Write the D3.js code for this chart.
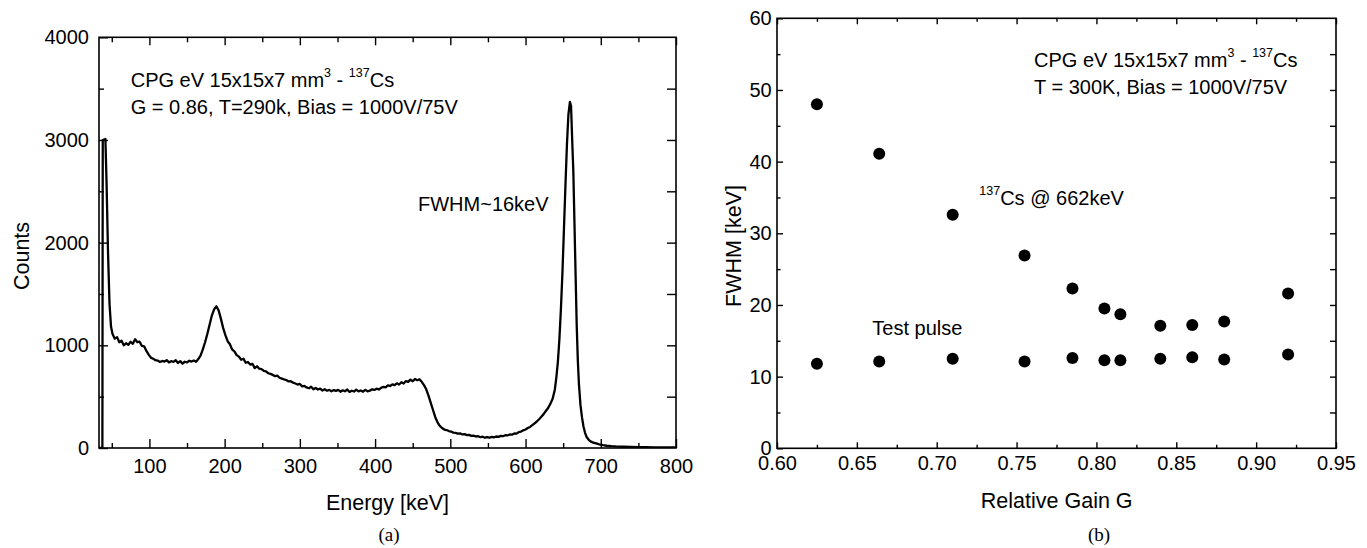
<!DOCTYPE html>
<html><head><meta charset="utf-8">
<script src="https://cdn.jsdelivr.net/npm/d3@7"></script>
<style>
body{margin:0;background:#fff}
svg text{font-family:"Liberation Sans",Arial,Helvetica,sans-serif;fill:#000;white-space:pre}
</style>
</head><body>
<svg id="c" width="1367" height="548"></svg>
<script>
// ---------- Panel (a): 137Cs spectrum ----------
const spectrumEnergy = [
  33,37.5,38,41.5,43,45,47,49,
  51,54,57,60,63,66,69,72,75,78,
  81,84,87,90,93,96,99,102,105,108,
  111,114,117,120,123,126,129,132,135,138,
  141,144,147,150,153,156,159,162,165,168,
  171,174,177,180,183,186,189,192,195,198,
  201,204,207,210,213,216,219,222,225,228,
  231,234,237,240,243,246,249,252,255,258,
  261,264,267,270,273,276,279,282,285,288,
  291,294,297,300,303,306,309,312,315,318,
  321,324,327,330,333,336,339,342,345,348,
  351,354,357,360,363,366,369,372,375,378,
  381,384,387,390,393,396,399,402,405,408,
  411,414,417,420,423,426,429,432,435,438,
  441,444,447,450,453,456,459,462,465,468,
  471,474,477,480,483,486,489,492,495,498,
  501,504,507,510,513,516,519,522,525,528,
  531,534,537,540,543,546,549,552,555,558,
  561,564,567,570,573,576,579,582,585,588,
  591,594,597,600,603,606,609,612,615,618,
  621,624,627,630,633,636,
  639,641,643,645,647,649,651,653,655,657,
  659,660.5,662,663.5,665,666.5,668,669.5,671,673,
  675,677,679,681,684,687,690,694,698,703,
  708,714,720,730,740,750,760,770,780,790,800
];
const spectrumCounts = [
  0,0,3000,3010,2600,1900,1400,1180,
  1110,1065,1080,1030,1045,1000,1020,1005,1035,1015,
  1060,1030,1035,995,990,945,910,880,870,855,
  852,838,848,842,856,834,846,838,855,828,
  846,822,840,834,850,842,852,840,866,900,
  960,1030,1110,1200,1290,1350,1380,1340,1260,1170,
  1100,1040,1010,960,940,905,890,860,870,830,
  838,812,820,778,796,772,768,752,746,728,
  722,712,700,704,684,676,668,662,648,650,
  636,628,618,624,600,604,590,582,596,572,
  585,570,578,560,572,558,566,552,564,556,
  566,548,562,552,570,546,558,550,568,552,
  560,548,566,552,558,572,566,578,570,586,
  596,590,610,604,620,612,630,618,640,628,
  652,644,666,650,672,660,668,645,612,572,
  510,440,370,300,250,215,195,180,175,165,
  160,150,148,140,142,132,135,125,128,118,
  120,112,115,105,110,100,106,100,108,103,
  112,108,118,115,124,122,132,130,142,140,
  155,160,172,180,195,205,222,240,258,280,
  305,330,360,390,430,480,
  570,690,840,1060,1350,1700,2120,2550,2950,3250,
  3370,3330,3000,2700,2200,1700,1200,850,620,420,
  300,210,150,110,80,62,52,44,36,28,
  22,18,15,12,10,9,8,7,6,5,5
];
const energyTicks = [100,200,300,400,500,600,700,800];
const energyMinorTicks = [50,150,250,350,450,550,650,750];
const countTicks = [0,1000,2000,3000,4000];
const countMinorTicks = [500,1500,2500,3500];
const countRightTicks = [500,1000,1500,2000,2500,3000,3500];

// ---------- Panel (b): FWHM vs relative gain ----------
const relativeGain = [0.625,0.664,0.710,0.755,0.785,0.805,0.815,0.840,0.860,0.880,0.920];
const fwhmCs662 =    [48.0,41.1,32.6,26.9,22.3,19.5,18.7,17.1,17.2,17.7,21.6];
const fwhmTestPulse =[11.8,12.1,12.5,12.1,12.6,12.3,12.3,12.5,12.7,12.4,13.1];
const gainTicks = [0.60,0.65,0.70,0.75,0.80,0.85,0.90,0.95];
const gainMinorTicks = [0.625,0.675,0.725,0.775,0.825,0.875,0.925];
const fwhmTicks = [0,10,20,30,40,50,60];
const fwhmMinorTicks = [5,15,25,35,45,55];
const fwhmRightTicks = [5,10,15,20,25,30,35,40,45,50,55];

const svg = d3.select("#c");
svg.append("rect").attr("width",1367).attr("height",548).attr("fill","#fff");

function styleAxis(g, fs){
  g.select(".domain").remove();
  g.selectAll(".tick line").attr("stroke","#000").attr("stroke-width",1.4);
  g.selectAll(".tick text").attr("font-size",fs).attr("fill","#000")
    .style("font-family","'Liberation Sans',Arial,sans-serif");
}
function richText(g, x, y, parts, fs){
  const t = g.append("text").attr("x",x).attr("y",y).attr("font-size",fs);
  let up = false;
  parts.forEach(p=>{
    const ts = t.append("tspan").text(p.t);
    if(p.sup){ ts.attr("font-size",12.5).attr("dy",-10); up = true; }
    else if(up){ ts.attr("dy",10); up = false; }
  });
  return t;
}

// ===== Panel (a) =====
const xA = d3.scaleLinear().domain([33,800]).range([99,676]);
const yA = d3.scaleLinear().domain([0,4000]).range([448,37.3]);
const gA = svg.append("g");

gA.append("clipPath").attr("id","clipA").append("rect")
  .attr("x",99).attr("y",37.3).attr("width",577).attr("height",410.7);

const spectrum = spectrumEnergy.map((e,i)=>[e,spectrumCounts[i]]);
gA.append("path").datum(spectrum)
  .attr("clip-path","url(#clipA)")
  .attr("fill","none").attr("stroke","#000").attr("stroke-width",2.3)
  .attr("stroke-linejoin","round")
  .attr("d", d3.line().x(d=>xA(d[0])).y(d=>yA(d[1])));

// axes (ticks inward)
styleAxis(gA.append("g").attr("transform","translate(0,448)")
  .call(d3.axisBottom(xA).tickValues(energyTicks).tickSize(-9).tickSizeOuter(0).tickPadding(11).tickFormat(d3.format("d"))),20);
styleAxis(gA.append("g").attr("transform","translate(0,448)")
  .call(d3.axisBottom(xA).tickValues(energyMinorTicks).tickSize(-5).tickSizeOuter(0).tickFormat("")),20);
styleAxis(gA.append("g").attr("transform","translate(0,37.3)")
  .call(d3.axisTop(xA).tickValues(energyTicks).tickSize(-8).tickSizeOuter(0).tickFormat("")),20);
styleAxis(gA.append("g").attr("transform","translate(0,37.3)")
  .call(d3.axisTop(xA).tickValues(energyMinorTicks).tickSize(-5).tickSizeOuter(0).tickFormat("")),20);
styleAxis(gA.append("g").attr("transform","translate(99,0)")
  .call(d3.axisLeft(yA).tickValues(countTicks).tickSize(-9).tickSizeOuter(0).tickPadding(10).tickFormat(d3.format("d"))),20);
styleAxis(gA.append("g").attr("transform","translate(99,0)")
  .call(d3.axisLeft(yA).tickValues(countMinorTicks).tickSize(-5).tickSizeOuter(0).tickFormat("")),20);
styleAxis(gA.append("g").attr("transform","translate(676,0)")
  .call(d3.axisRight(yA).tickValues(countRightTicks).tickSize(-9).tickSizeOuter(0).tickFormat("")),20);

gA.append("rect").attr("x",99).attr("y",37.3).attr("width",577).attr("height",410.7)
  .attr("fill","none").attr("stroke","#000").attr("stroke-width",1.6);

richText(gA,130.7,86.7,[{t:"CPG eV 15x15x7 mm"},{t:"3",sup:true},{t:" - "},{t:"137",sup:true},{t:"Cs"}],20);
richText(gA,130.7,114,[{t:"G = 0.86, T=290k, Bias = 1000V/75V"}],20);
richText(gA,418,210.7,[{t:"FWHM~16keV"}],20);

gA.append("text").attr("x",387.5).attr("y",510).attr("text-anchor","middle").attr("font-size",21.5).text("Energy [keV]");
gA.append("text").attr("transform","translate(28.5,256) rotate(-90)").attr("text-anchor","middle").attr("font-size",21.5).text("Counts");
gA.append("text").attr("x",389).attr("y",541).attr("text-anchor","middle").attr("font-size",19)
  .style("font-family","'Liberation Serif','Times New Roman',serif").text("(a)");

// ===== Panel (b) =====
const xB = d3.scaleLinear().domain([0.60,0.95]).range([777,1336]);
const yB = d3.scaleLinear().domain([0,60]).range([448.3,18.3]);
const gB = svg.append("g");

styleAxis(gB.append("g").attr("transform","translate(0,448.3)")
  .call(d3.axisBottom(xB).tickValues(gainTicks).tickSize(-6).tickSizeOuter(0).tickPadding(7.5).tickFormat(d3.format(".2f"))),20);
styleAxis(gB.append("g").attr("transform","translate(0,448.3)")
  .call(d3.axisBottom(xB).tickValues(gainMinorTicks).tickSize(-3.5).tickSizeOuter(0).tickFormat("")),20);
styleAxis(gB.append("g").attr("transform","translate(0,18.3)")
  .call(d3.axisTop(xB).tickValues(gainTicks).tickSize(-6).tickSizeOuter(0).tickFormat("")),20);
styleAxis(gB.append("g").attr("transform","translate(0,18.3)")
  .call(d3.axisTop(xB).tickValues(gainMinorTicks).tickSize(-3.5).tickSizeOuter(0).tickFormat("")),20);
styleAxis(gB.append("g").attr("transform","translate(777,0)")
  .call(d3.axisLeft(yB).tickValues(fwhmTicks).tickSize(-6).tickSizeOuter(0).tickPadding(5.3).tickFormat(d3.format("d"))),20);
styleAxis(gB.append("g").attr("transform","translate(777,0)")
  .call(d3.axisLeft(yB).tickValues(fwhmMinorTicks).tickSize(-3.5).tickSizeOuter(0).tickFormat("")),20);
styleAxis(gB.append("g").attr("transform","translate(1336,0)")
  .call(d3.axisRight(yB).tickValues(fwhmRightTicks).tickSize(-6).tickSizeOuter(0).tickFormat("")),20);

gB.append("rect").attr("x",777).attr("y",18.3).attr("width",559).attr("height",430)
  .attr("fill","none").attr("stroke","#000").attr("stroke-width",1.6);

gB.selectAll("circle.cs").data(relativeGain).join("circle").attr("class","cs")
  .attr("cx",d=>xB(d)).attr("cy",(d,i)=>yB(fwhmCs662[i])).attr("r",6).attr("fill","#000");
gB.selectAll("circle.tp").data(relativeGain).join("circle").attr("class","tp")
  .attr("cx",d=>xB(d)).attr("cy",(d,i)=>yB(fwhmTestPulse[i])).attr("r",6).attr("fill","#000");

richText(gB,1034,66.7,[{t:"CPG eV 15x15x7 mm"},{t:"3",sup:true},{t:" - "},{t:"137",sup:true},{t:"Cs"}],20);
richText(gB,1034,94,[{t:"T = 300K, Bias = 1000V/75V"}],20);
richText(gB,979.3,205,[{t:"137",sup:true},{t:"Cs @ 662keV"}],20);
richText(gB,872.3,335,[{t:"Test pulse"}],20);

gB.append("text").attr("x",1056.7).attr("y",508.3).attr("text-anchor","middle").attr("font-size",21.5).text("Relative Gain G");
gB.append("text").attr("transform","translate(741,246) rotate(-90)").attr("text-anchor","middle").attr("font-size",21.5).text("FWHM [keV]");
gB.append("text").attr("x",1099).attr("y",541).attr("text-anchor","middle").attr("font-size",19)
  .style("font-family","'Liberation Serif','Times New Roman',serif").text("(b)");
</script>
</body></html>
